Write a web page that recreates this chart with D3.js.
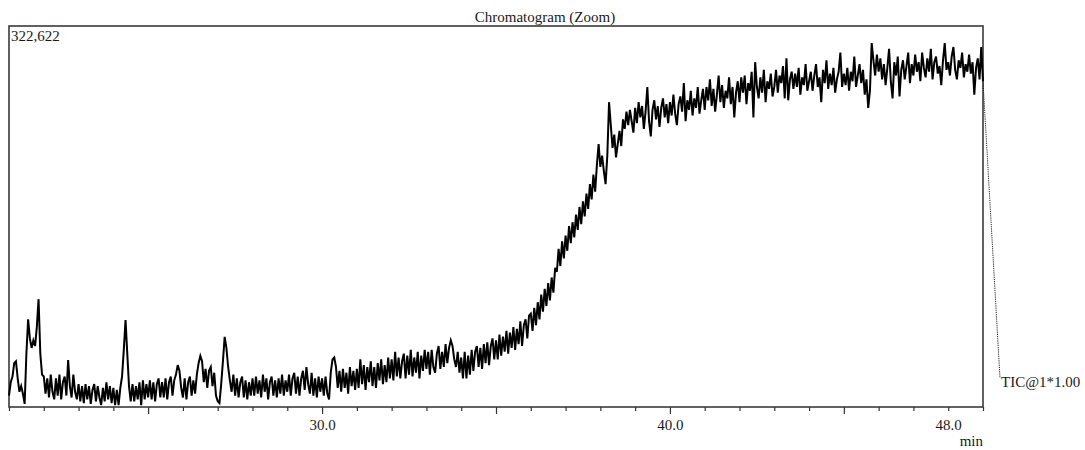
<!DOCTYPE html>
<html>
<head>
<meta charset="utf-8">
<script src="https://cdn.jsdelivr.net/npm/d3@7"></script>
<style>
  html, body { margin: 0; padding: 0; background: #fff; }
  svg text { font-family: "Liberation Serif", "Times New Roman", serif; fill: #1a1a1a; }
</style>
</head>
<body>
<svg id="chart" width="1085" height="450"></svg>
<script>
// TIC acquisition: first scan time and scan interval (min)
const scanStart = 21.0;
const scanInterval = 0.05;

// Relative intensity of the TIC trace (% of full scale), one value per scan, 21.00 – 49.00 min
const relAbundance = [
  3.0, 6.5, 8.0, 11.5, 12.0, 7.5, 4.0, 5.5, 3.5, 0.8, 14.0, 23.0, 18.0, 15.5, 17.5, 16.0, 21.0, 28.3, 14.0, 8.5,
  8.0, 3.5, 7.5, 2.5, 8.5, 4.0, 2.0, 7.5, 3.0, 8.5, 2.0, 6.5, 8.0, 3.0, 12.3, 5.5, 2.5, 8.5, 4.0, 2.0,
  6.0, 1.5, 5.5, 1.0, 6.0, 2.0, 5.5, 0.8, 4.5, 6.0, 1.5, 5.5, 2.5, 0.5, 5.0, 1.5, 6.5, 2.0, 5.5, 1.0,
  5.0, 0.5, 4.5, 0.5, 5.0, 8.0, 15.0, 22.8, 14.0, 5.5, 1.5, 6.0, 1.5, 5.5, 2.0, 6.5, 0.5, 7.0, 2.0, 6.0,
  2.5, 7.0, 2.0, 6.5, 1.5, 6.0, 7.5, 2.5, 6.5, 2.5, 7.5, 2.0, 6.5, 8.0, 3.0, 7.0, 8.5, 11.0, 9.5, 5.0,
  2.5, 7.5, 2.0, 6.5, 8.0, 3.0, 7.0, 3.5, 8.5, 11.5, 13.4, 12.0, 6.5, 10.0, 5.0, 9.5, 10.5, 5.5, 9.0, 3.0,
  1.5, 1.0, 6.0, 12.0, 18.4, 15.5, 10.5, 7.0, 4.0, 8.5, 3.0, 7.5, 2.5, 6.5, 8.0, 2.5, 7.0, 2.0, 6.5, 3.0,
  7.5, 3.0, 8.0, 3.5, 7.0, 2.5, 8.5, 4.0, 7.5, 2.0, 6.5, 8.0, 3.0, 7.0, 2.5, 7.5, 3.5, 8.5, 3.0, 7.0,
  4.0, 8.5, 3.0, 7.5, 9.0, 3.5, 8.0, 3.0, 7.5, 9.5, 4.5, 10.5, 6.0, 3.5, 9.0, 3.0, 7.5, 2.5, 8.0, 4.0,
  7.5, 3.0, 8.0, 3.5, 2.0, 9.0, 12.5, 13.0, 10.5, 5.0, 9.5, 4.0, 10.0, 5.0, 9.0, 3.5, 10.5, 5.5, 9.5, 4.5,
  10.0, 5.0, 12.5, 6.0, 11.0, 4.5, 10.5, 6.5, 12.0, 5.5, 10.5, 5.0, 11.5, 7.0, 12.5, 6.0, 11.0, 6.5, 13.0, 7.5,
  12.5, 7.0, 14.5, 8.0, 13.0, 7.5, 12.0, 14.0, 7.5, 13.5, 8.5, 15.0, 8.0, 13.0, 9.0, 14.5, 7.5, 13.5, 9.5, 15.0,
  10.0, 14.5, 8.5, 15.0, 10.5, 9.0, 14.0, 16.0, 10.0, 14.5, 10.5, 16.5, 11.5, 15.5, 17.5, 16.0, 12.5, 10.5, 14.5, 9.0,
  13.0, 7.5, 14.5, 7.5, 13.5, 8.5, 15.0, 9.5, 14.5, 16.0, 10.5, 15.5, 10.0, 16.5, 11.5, 17.0, 11.0, 16.0, 18.0, 12.5,
  17.5, 12.5, 19.0, 13.5, 18.5, 14.5, 20.0, 14.0, 19.5, 15.5, 21.0, 15.0, 20.5, 16.5, 22.5, 16.0, 21.5, 23.0, 18.0, 24.0,
  24.5, 20.0, 26.0, 21.5, 27.5, 23.0, 29.5, 25.0, 31.0, 26.5, 32.5, 28.0, 34.0, 30.0, 36.5, 35.5, 41.5, 37.0, 43.5, 39.0,
  45.0, 41.0, 47.5, 43.0, 48.5, 44.5, 50.5, 46.5, 52.5, 48.0, 54.0, 50.0, 56.0, 52.0, 58.5, 54.5, 61.0, 56.5, 63.5, 69.0,
  63.0, 66.0, 62.0, 58.5, 66.0, 80.0, 74.0, 68.0, 71.5, 65.5, 69.0, 72.5, 68.5, 75.5, 73.0, 77.5, 74.0, 78.0, 75.0, 72.0,
  78.5, 74.5, 80.0, 76.0, 79.0, 73.0, 77.5, 84.0, 75.0, 71.0, 78.0, 80.5, 75.5, 79.0, 73.5, 78.5, 81.0, 76.0, 79.5, 74.5,
  80.0, 76.5, 82.0, 77.0, 74.0, 79.5, 81.5, 77.5, 85.0, 75.0, 80.5, 78.0, 83.0, 76.5, 81.0, 78.5, 84.0, 77.0, 80.5, 83.5,
  78.0, 84.0, 80.5, 86.0, 79.0, 83.5, 77.5, 82.0, 87.0, 80.0, 84.5, 78.5, 83.0, 81.0, 86.5, 79.5, 84.0, 76.0, 82.5, 85.5,
  80.0, 86.5, 82.5, 87.0, 79.5, 85.0, 83.0, 88.0, 76.0, 90.5, 84.0, 81.0, 86.5, 82.5, 88.5, 80.0, 85.5, 83.5, 87.5, 81.5,
  84.0, 88.5, 82.5, 87.0, 85.0, 89.5, 81.0, 91.5, 80.5, 86.0, 88.0, 83.5, 87.5, 84.0, 89.0, 82.0, 86.5, 84.5, 90.0, 83.0,
  85.5, 88.0, 83.0, 87.0, 90.0, 84.0, 86.5, 80.0, 88.5, 85.0, 91.0, 83.5, 87.5, 84.5, 89.0, 82.5, 86.0, 88.0, 93.0, 84.0,
  87.5, 84.5, 89.0, 83.0, 88.0, 85.5, 92.0, 84.0, 87.0, 90.0, 85.0, 88.5, 82.0, 86.0, 78.5, 83.0, 95.5, 91.0, 87.0, 92.5,
  88.0, 91.5, 86.0, 90.0, 84.5, 89.0, 94.0, 85.5, 81.0, 90.5, 87.0, 92.0, 81.5, 88.5, 91.0, 86.0, 89.5, 93.0, 85.0, 90.0,
  87.0, 92.5, 88.0, 90.5, 85.5, 93.0, 89.0, 86.5, 91.5, 88.0, 94.0, 86.0, 90.5, 92.0, 87.5, 89.5, 84.5, 91.0, 95.5, 88.5,
  90.5, 87.0, 92.0, 94.5, 88.5, 86.0, 91.0, 89.0, 93.0, 86.5, 90.0, 88.0, 92.5, 87.5, 90.5, 82.0, 89.0, 91.5, 86.0, 94.5,
  85.5
];

// Axis range and labelled ticks (min)
const timeRange = [21.0, 49.0];
const labelledTicks = [30.0, 40.0, 48.0];
const tickLabels = ["30.0", "40.0", "48.0"];

// Header / annotation texts
const chartTitle = "Chromatogram (Zoom)";
const fullScale = 322622;
const traceName = "TIC@1*1.00";
const timeUnit = "min";

const svg = d3.select("#chart");
const plot = { left: 9, right: 983, top: 26, bottom: 407 };

const x = d3.scaleLinear().domain(timeRange).range([plot.left, plot.right]);
const y = d3.scaleLinear().domain([0, 100]).range([plot.bottom, plot.top]);

const scans = relAbundance.map((v, i) => ({ t: scanStart + i * scanInterval, v }));

// Title
svg.append("text")
  .attr("x", 545).attr("y", 22)
  .attr("text-anchor", "middle")
  .style("font-size", "15px")
  .text(chartTitle);

// Bottom axis: a tick every minute, longer ticks every 5 min
const axisG = svg.append("g")
  .attr("transform", `translate(0,${plot.bottom})`)
  .call(d3.axisBottom(x)
    .tickValues(d3.range(timeRange[0], timeRange[1] + 0.001, 1))
    .tickSizeInner(4).tickSizeOuter(0)
    .tickFormat(d => {
      const k = labelledTicks.findIndex(t => Math.abs(t - d) < 1e-6);
      return k >= 0 ? tickLabels[k] : "";
    }));
axisG.select(".domain").remove();
axisG.selectAll(".tick line")
  .attr("stroke", "#333")
  .attr("stroke-width", 1.2)
  .attr("y2", d => (Math.round(d) % 5 === 0 ? 7 : 4));
axisG.selectAll(".tick text")
  .attr("y", 12.4)
  .style("font-size", "15px")
  .style("font-family", "'Liberation Serif', serif")
  .attr("fill", "#1a1a1a");

// Plot frame
svg.append("rect")
  .attr("x", plot.left).attr("y", plot.top)
  .attr("width", plot.right - plot.left).attr("height", plot.bottom - plot.top)
  .attr("fill", "none").attr("stroke", "#3a3a3a").attr("stroke-width", 1.6);

// Full-scale intensity
svg.append("text")
  .attr("x", 11).attr("y", 41)
  .style("font-size", "15px")
  .text(d3.format(",")(fullScale));

// TIC trace
const line = d3.line().x(d => x(d.t)).y(d => y(d.v));
svg.append("path")
  .datum(scans)
  .attr("d", line)
  .attr("fill", "none")
  .attr("stroke", "#000")
  .attr("stroke-width", 2)
  .attr("stroke-linejoin", "miter");

// Trace name with dotted leader from the end of the trace
const last = scans[scans.length - 1];
const nameX = 1001, nameY = 387;
svg.append("line")
  .attr("x1", x(last.t)).attr("y1", y(last.v))
  .attr("x2", nameX - 1).attr("y2", nameY - 9)
  .attr("stroke", "#222").attr("stroke-width", 1)
  .attr("stroke-dasharray", "1.2,1");
svg.append("text")
  .attr("x", nameX).attr("y", nameY)
  .style("font-size", "15px")
  .text(traceName);

// Time unit
svg.append("text")
  .attr("x", plot.right).attr("y", 446)
  .attr("text-anchor", "end")
  .style("font-size", "15px")
  .text(timeUnit);
</script>
</body>
</html>
